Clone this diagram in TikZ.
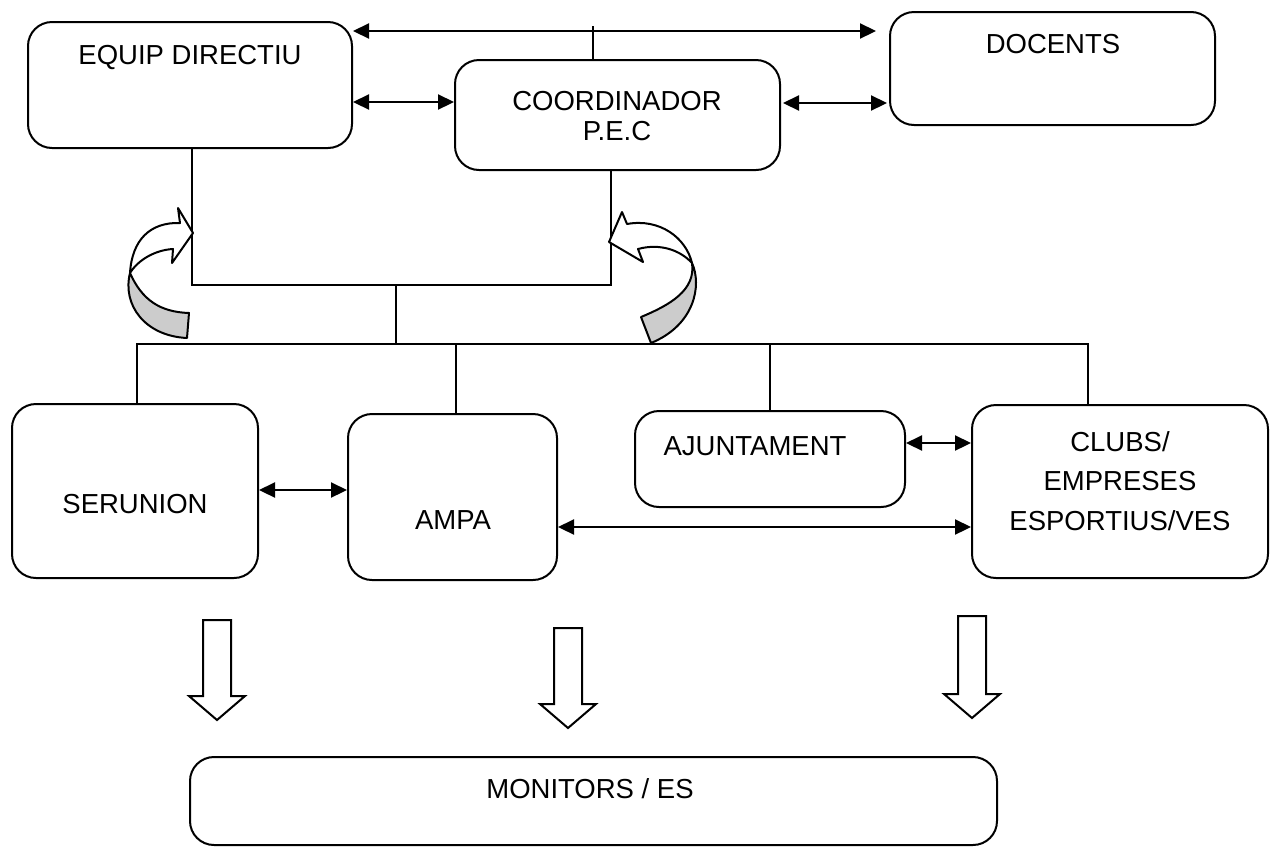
\documentclass[tikz,border=0pt]{standalone}
\usepackage{fontspec}
\setmainfont{Liberation Sans}
\usetikzlibrary{arrows.meta}
\usetikzlibrary{calc}

\tikzset{
  caixa/.style={draw, line width=2pt, rounded corners=24pt, inner sep=0pt},
  rotul/.style={font=\fontsize{27.5}{30}\selectfont, align=center, inner sep=0pt},
  dbl/.style={line width=2.2pt, {Triangle[length=16pt,width=15pt]}-{Triangle[length=16pt,width=15pt]}},
  linia/.style={line width=2pt},
  corba/.style={line width=2pt, line join=round},
}

\begin{document}
\begin{tikzpicture}[x=1pt, y=-1pt]
  \useasboundingbox (0,0) rectangle (1271,847);

  % caixes
  \node[caixa, minimum width=324, minimum height=126] (equip) at (190,85) {};
  \node[caixa, minimum width=325, minimum height=113] (docents) at (1052.5,68.5) {};
  \node[caixa, minimum width=325, minimum height=110] (coord) at (617.5,115) {};
  \node[caixa, minimum width=246, minimum height=174] (serunion) at (135,491) {};
  \node[caixa, minimum width=209, minimum height=166] (ampa) at (452.5,497) {};
  \node[caixa, minimum width=270, minimum height=96] (ajunt) at (770,459) {};
  \node[caixa, minimum width=296, minimum height=173] (clubs) at (1120,491.5) {};
  \node[caixa, minimum width=807, minimum height=88] (monitors) at (593.5,801) {};

  % textos
  \node[rotul] (tequip) at (190,57) {EQUIP DIRECTIU};
  \node[rotul] (tdocents) at (1053,44) {DOCENTS};
  \node[rotul] (tcoord) at (617,116) {COORDINADOR\\P.E.C};
  \node[rotul] (tserunion) at (135,504) {SERUNION};
  \node[rotul] (tampa) at (453,520) {AMPA};
  \node[rotul] (tajunt) at (755,446) {AJUNTAMENT};
  \node[rotul, font=\fontsize{27.5}{39.5}\selectfont] (tclubs) at (1120,481) {CLUBS/\\EMPRESES\\ESPORTIUS/VES};
  \node[rotul] (tmonitors) at (590,789) {MONITORS / ES};

  % fletxes dobles
  \coordinate (dretadalt) at ($(docents.north west)+(-13,20)$);
  \draw[dbl] ($(equip.north east)+(0,10)$) -- (dretadalt);
  \draw[linia] ($(coord.north)+(-25,0)$) -- ++(0,-33);
  \draw[dbl] ($(equip.east)+(0,17)$) -- ($(coord.west)+(0,-13)$);
  \draw[dbl] ($(coord.east)+(2,-12)$) -- ($(docents.west)+(-2,34.5)$);
  \draw[dbl] ($(serunion.east)+(0,-1)$) -- ($(ampa.west)+(0,-7)$);
  \draw[dbl] ($(ajunt.east)+(0,-16)$) -- ($(clubs.west)+(0,-48.5)$);
  \draw[dbl] ($(ampa.east)+(0,30)$) -- ($(clubs.west)+(0,35.5)$);

  % arbre
  \coordinate (mig) at (396,285);
  \coordinate (barra) at (396,345);
  \draw[linia] ($(equip.south)+(2,0)$) |- (mig) -| ($(coord.south)+(-7,0)$);
  \draw[linia] (mig) -- (barra);
  \draw[linia] ($(serunion.north)+(2,0)$) |- ($(clubs.north)+(-32,-60)$) -- ($(clubs.north)+(-32,0)$);
  \draw[linia] ($(ampa.north)+(3,0)$) -- ($(ampa.north |- barra)+(3,0)$);
  \draw[linia] (ajunt.north) -- (ajunt.north |- barra);

  % fletxes corbes
  \filldraw[corba, fill=black!20] (130,273) .. controls (142,300) and (160,312) .. (189,313)
    -- (187,338) .. controls (145,336) and (122,305) .. (130,273) -- cycle;
  \filldraw[corba, fill=white] (130,273) .. controls (132,240) and (150,222) .. (180,223)
    -- (178,208) -- (193,233) -- (172,263) -- (173,249)
    .. controls (155,250) and (138,260) .. (130,273) -- cycle;
  \filldraw[corba, fill=black!20] (692,263) .. controls (702,285) and (695,325) .. (651,343)
    -- (641,317) .. controls (670,305) and (696,290) .. (692,263) -- cycle;
  \filldraw[corba, fill=white] (622,212) -- (627,224) .. controls (660,218) and (686,238) .. (692,263)
    .. controls (680,250) and (660,243) .. (638,249) -- (643,262) -- (609,242) -- cycle;

  % fletxes de bloc
  \foreach \cx/\ct/\cp in {217/620/720, 568/628/728, 972/616/718}
    \draw[linia] (\cx-14,\ct) -- (\cx+14,\ct) -- (\cx+14,\cp-24) -- (\cx+28,\cp-24)
      -- (\cx,\cp) -- (\cx-28,\cp-24) -- (\cx-14,\cp-24) -- cycle;
\end{tikzpicture}
\end{document}
